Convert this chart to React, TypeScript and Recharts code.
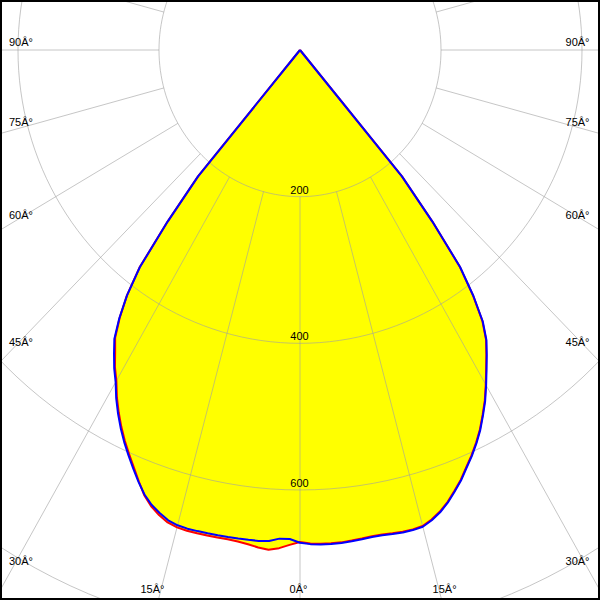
import React from 'react';
import { ScatterChart, Scatter, XAxis, YAxis } from 'recharts';

// ---- data (gamma angle in degrees, negative = left half of the diagram) ----
const ANGLES = [
  -90, -85, -80, -75, -70, -65, -60, -55, -50, -45,
  -40, -38.75, -37.5, -36.25, -35, -33.75, -32.5, -31.25, -30, -28.75, -27.5, -26.25, -25, -23.75, -22.5, -21.25,
  -20, -18.75, -17.5, -16.25, -15, -13.75, -12.5, -11.25, -10, -8.75, -7.5, -6.25, -5, -3.75, -2.5, -1.25,
  0,
  1.25, 2.5, 3.75, 5, 6.25, 7.5, 8.75, 10, 11.25, 12.5, 13.75, 15, 16.25, 17.5, 18.75, 20,
  21.25, 22.5, 23.75, 25, 26.25, 27.5, 28.75, 30, 31.25, 32.5, 33.75, 35, 36.25, 37.5, 38.75, 40,
  45, 50, 55, 60, 65, 70, 75, 80, 85, 90,
];

// C0-C180 plane (red), cd/klm
const RED_C0_C180 = [
  0, 0, 0, 0, 0, 0, 0, 0, 0, 0,
  225, 300, 374, 415, 446, 472, 488, 506, 521, 540, 557, 573, 588, 602, 616, 631,
  646, 657, 665, 671, 674, 675, 675, 675, 675, 675, 676, 678, 681, 683, 680, 675,
  671,
  673, 674, 674, 674, 673, 672, 671, 671, 672, 673, 673, 672, 667, 660, 651, 640,
  629, 616, 604, 591, 577, 561, 545, 527, 509, 492, 475, 451, 415, 372, 300, 225,
  0, 0, 0, 0, 0, 0, 0, 0, 0, 0,
];

// C90-C270 plane (blue), cd/klm
const BLUE_C90_C270 = [
  0, 0, 0, 0, 0, 0, 0, 0, 0, 0,
  225, 300, 373, 415, 447, 474, 491, 508, 523, 542, 559, 575, 590, 604, 618, 632,
  645, 655, 662, 668, 671, 672, 672, 672, 672, 672, 672, 672, 672, 671, 667, 667,
  672,
  674, 675, 675, 675, 674, 673, 672, 672, 673, 674, 674, 673, 668, 661, 652, 641,
  630, 617, 605, 592, 578, 562, 546, 528, 510, 493, 476, 452, 416, 373, 300, 225,
  0, 0, 0, 0, 0, 0, 0, 0, 0, 0,
];

const GRID_RADII = [200, 400, 600, 800];
const RADIUS_LABELS = [200, 400, 600];
const GRID_ANGLES = [0, 15, 30, 45, 60, 75, 90, 105, 120, 135, 150, 165, 180, 195, 210, 225, 240, 255, 270, 285, 300, 315, 330, 345];
const ANGLE_LABELS = [-90, -75, -60, -45, -30, -15, 0, 15, 30, 45, 60, 75, 90];

// ---- layout ----
const W = 600;
const H = 600;
const CX_PX = 300;
const CY_PX = 50;
const PX_PER_X = 0.705;
const PX_PER_Y = 0.7333;
const X_DOMAIN: [number, number] = [-CX_PX / PX_PER_X, (W - CX_PX) / PX_PER_X];
const Y_DOMAIN: [number, number] = [-(H - CY_PX) / PX_PER_Y, CY_PX / PX_PER_Y];

const rad = (d: number) => (d * Math.PI) / 180;
const polar = (a: number, r: number) => ({ x: r * Math.sin(rad(a)), y: -r * Math.cos(rad(a)) });

const redPts = ANGLES.map((a, i) => polar(a, RED_C0_C180[i]));
const bluePts = ANGLES.map((a, i) => polar(a, BLUE_C90_C270[i]));
const circleSeries = GRID_RADII.map((R) => Array.from({ length: 180 }, (_, k) => polar(k * 2, R)));
const radialPts = GRID_ANGLES.flatMap((a) => [polar(a, 200), polar(a, 1600)]);
const radiusLabelPts = RADIUS_LABELS.map((R) => ({ ...polar(0, R), label: String(R) }));

const angleLabelPts = ANGLE_LABELS.map((a) => {
  const label = `${Math.abs(a)}Â°`;
  if (Math.abs(a) >= 30) {
    const xEdge = X_DOMAIN[1] - 12 / PX_PER_X;
    const r = xEdge / Math.sin(rad(Math.abs(a)));
    return { ...polar(a, r), label, side: a < 0 ? 'left' : 'right' };
  }
  const yEdge = -Y_DOMAIN[0] + 17 / PX_PER_Y;
  const r = yEdge / Math.cos(rad(a));
  return { ...polar(a, r), label, side: 'bottom' };
});

const FONT = '"Liberation Sans", Arial, sans-serif';

const pathOf = (pts: { x: number; y: number }[]) =>
  pts.map((p, i) => `${i ? 'L' : 'M'}${p.x},${p.y}`).join('');

const Nothing = () => <g />;

const fillLine = (p: any) => <path d={pathOf(p.points) + 'Z'} fill="#ffff00" stroke="none" />;
const circleLine = (p: any) => (
  <path d={pathOf(p.points) + 'Z'} fill="none" stroke="#a0a0a0" strokeOpacity={0.6} strokeWidth={1} />
);
const radialLine = (p: any) => {
  const pts = p.points as { x: number; y: number }[];
  let d = '';
  for (let i = 0; i + 1 < pts.length; i += 2) d += `M${pts[i].x},${pts[i].y}L${pts[i + 1].x},${pts[i + 1].y}`;
  return <path d={d} fill="none" stroke="#a0a0a0" strokeOpacity={0.6} strokeWidth={1} />;
};
const curveLine = (color: string) => (p: any) => (
  <path d={pathOf(p.points)} fill="none" stroke={color} strokeWidth={2} strokeLinejoin="round" />
);

const RadiusLabel = (p: any) => (
  <text x={p.cx - 0.5} y={p.cy - 3} textAnchor="middle" fontFamily={FONT} fontSize={11} fill="#000">
    {p.payload.label}
  </text>
);

const AngleLabel = (p: any) => {
  const side = p.payload.side;
  if (side === 'left')
    return (
      <text x={p.cx - 3} y={p.cy - 4} textAnchor="start" fontFamily={FONT} fontSize={11} fill="#000">
        {p.payload.label}
      </text>
    );
  if (side === 'right')
    return (
      <text x={p.cx + 1.5} y={p.cy - 4} textAnchor="end" fontFamily={FONT} fontSize={11} fill="#000">
        {p.payload.label}
      </text>
    );
  return (
    <text x={p.cx - 1.5} y={p.cy - 24} textAnchor="middle" fontFamily={FONT} fontSize={11} fill="#000">
      {p.payload.label}
    </text>
  );
};

export default function App() {
  return (
    <div style={{ position: 'absolute', left: 0, top: 0, width: W, height: H, background: '#fff', overflow: 'hidden' }}>
      <ScatterChart width={W} height={H} margin={{ top: 0, right: 0, bottom: 0, left: 0 }}>
        <XAxis type="number" dataKey="x" domain={X_DOMAIN} allowDataOverflow hide />
        <YAxis type="number" dataKey="y" domain={Y_DOMAIN} allowDataOverflow hide />
        <Scatter data={redPts} line={fillLine} shape={Nothing} isAnimationActive={false} legendType="none" />
        {circleSeries.map((pts, i) => (
          <Scatter key={`c${i}`} data={pts} line={circleLine} shape={Nothing} isAnimationActive={false} legendType="none" />
        ))}
        <Scatter data={radialPts} line={radialLine} shape={Nothing} isAnimationActive={false} legendType="none" />
        <Scatter data={redPts} line={curveLine('#ff0000')} shape={Nothing} isAnimationActive={false} legendType="none" />
        <Scatter data={bluePts} line={curveLine('#0000ff')} shape={Nothing} isAnimationActive={false} legendType="none" />
        <Scatter data={radiusLabelPts} shape={RadiusLabel} isAnimationActive={false} legendType="none" />
        <Scatter data={angleLabelPts} shape={AngleLabel} isAnimationActive={false} legendType="none" />
      </ScatterChart>
      <div
        style={{
          position: 'absolute',
          left: 0,
          top: 0,
          width: W,
          height: H,
          boxSizing: 'border-box',
          border: '2px solid #000',
          pointerEvents: 'none',
        }}
      />
    </div>
  );
}
